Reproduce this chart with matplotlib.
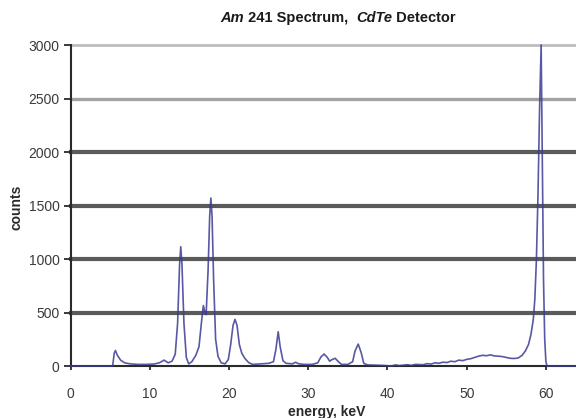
import matplotlib
matplotlib.use("Agg")
import matplotlib.pyplot as plt

plt.rcParams["font.family"] = ["Liberation Sans", "DejaVu Sans"]

# Am-241 spectrum measured with a CdTe detector (energy in keV, counts per channel)
energy_kev = [
    0.0, 5.3, 5.5, 5.65, 5.9, 6.3, 6.8, 7.5, 8.5, 9.5, 10.5, 11.2, 11.8, 12.3,
    12.8, 13.2, 13.5, 13.75, 13.9, 14.05, 14.3, 14.6, 14.9, 15.3, 15.8, 16.2,
    16.5, 16.75, 16.95, 17.1, 17.35, 17.55, 17.7, 17.85, 18.05, 18.3, 18.6,
    19.0, 19.5, 19.9, 20.2, 20.5, 20.75, 21.0, 21.3, 21.6, 22.0, 22.5, 23.0,
    24.0, 25.0, 25.6, 25.9, 26.2, 26.45, 26.8, 27.2, 28.0, 28.4, 28.8, 29.5,
    30.5, 31.2, 31.6, 32.0, 32.4, 32.7, 33.0, 33.4, 33.8, 34.2, 35.0, 35.6,
    35.9, 36.3, 36.7, 37.0, 37.5, 38.5, 39.5, 40.5, 41.0, 41.5, 42.5, 43.0,
    43.5, 44.5, 45.0, 45.5, 46.0, 46.5, 47.0, 47.5, 48.0, 48.5, 49.0, 49.5,
    50.0, 50.5, 51.0, 51.5, 52.0, 52.5, 53.0, 53.5, 54.0, 54.5, 55.0, 55.5,
    56.0, 56.5, 57.0, 57.4, 57.8, 58.1, 58.4, 58.6, 58.8, 59.0, 59.2, 59.4,
    59.55, 59.7, 59.85, 60.0, 60.15, 63.8,
]
counts = [
    0, 0, 120, 145, 100, 55, 30, 20, 15, 15, 18, 30, 55, 30,
    45, 110, 400, 950, 1115, 950, 400, 80, 20, 40, 100, 180,
    400, 565, 500, 480, 900, 1400, 1570, 1400, 800, 250, 90,
    30, 20, 60, 200, 380, 436, 380, 200, 120, 70, 30, 15,
    20, 25, 40, 150, 320, 180, 50, 25, 20, 35, 20, 15,
    15, 30, 85, 112, 80, 45, 60, 72, 40, 15, 15, 40,
    140, 205, 120, 25, 10, 8, 5, 0, 10, 4, 12, 6,
    15, 12, 22, 18, 30, 25, 36, 32, 45, 40, 55, 50,
    62, 68, 80, 92, 100, 96, 104, 94, 92, 88, 80, 72,
    70, 75, 100, 140, 200, 290, 430, 620, 990, 1600, 2400, 3000,
    1900, 800, 250, 40, 0, 0,
]

y_ticks = [0, 500, 1000, 1500, 2000, 2500, 3000]
x_ticks = [0, 10, 20, 30, 40, 50, 60]
grid_levels = [500, 1000, 1500, 2000, 2500, 3000]
grid_colors = ["#5a5a5a", "#5a5a5a", "#5a5a5a", "#5a5a5a", "#a3a3a3", "#bdbdbd"]
grid_widths = [3.0, 3.0, 3.0, 3.0, 2.4, 2.0]

fig = plt.figure(figsize=(5.76, 4.18), dpi=100)
ax = fig.add_axes([0.1227, 0.1244, 0.8773, 0.7679])

for level, col, lw in zip(grid_levels, grid_colors, grid_widths):
    ax.axhline(level, color=col, linewidth=lw, zorder=1, clip_on=False)

ax.plot(energy_kev, counts, color="#3b3b96", linewidth=1.2, zorder=3,
        clip_on=False, alpha=0.85)

ax.set_xlim(0, 63.8)
ax.set_ylim(0, 3000)
ax.set_xticks(x_ticks)
ax.set_yticks(y_ticks)

for side in ("top", "right"):
    ax.spines[side].set_visible(False)
for side in ("left", "bottom"):
    ax.spines[side].set_color("#2a2a2a")
    ax.spines[side].set_linewidth(1.5)
    ax.spines[side].set_zorder(2)

ax.tick_params(axis="y", direction="out", length=5, width=1.3, color="#2a2a2a",
               labelsize=10, labelcolor="#3a3a3a", pad=3)
ax.tick_params(axis="x", direction="out", length=3, width=1.3, color="#2a2a2a",
               labelsize=10, labelcolor="#3a3a3a", pad=12)

# Title with italic element / material names
title_parts = [("Am", "italic"), (" 241 Spectrum,  ", "normal"),
               ("CdTe", "italic"), (" Detector", "normal")]
first = fig.text(0.382, 0.940, title_parts[0][0], fontsize=10.5, fontweight="bold",
                 fontstyle=title_parts[0][1], color="#1a1a1a", ha="left", va="bottom")
rest = [fig.text(0, 0, text, fontsize=10.5, fontweight="bold", fontstyle=style,
                 color="#1a1a1a", ha="left", va="bottom")
        for text, style in title_parts[1:]]
fig.canvas.draw()
renderer = fig.canvas.get_renderer()
x_cursor = first.get_window_extent(renderer).x1
y0 = first.get_window_extent(renderer).y0
for t in rest:
    t.set_transform(matplotlib.transforms.IdentityTransform())
    t.set_position((x_cursor, y0))
    x_cursor = t.get_window_extent(renderer).x1

fig.text(0.568, 0.0144, "energy, keV", fontsize=10, fontweight="bold",
         color="#2a2a2a", ha="center", va="center")
fig.text(0.028, 0.505, "counts", fontsize=10, fontweight="bold", rotation=90,
         color="#2a2a2a", ha="center", va="center")

fig.savefig("out.png", dpi=100)
